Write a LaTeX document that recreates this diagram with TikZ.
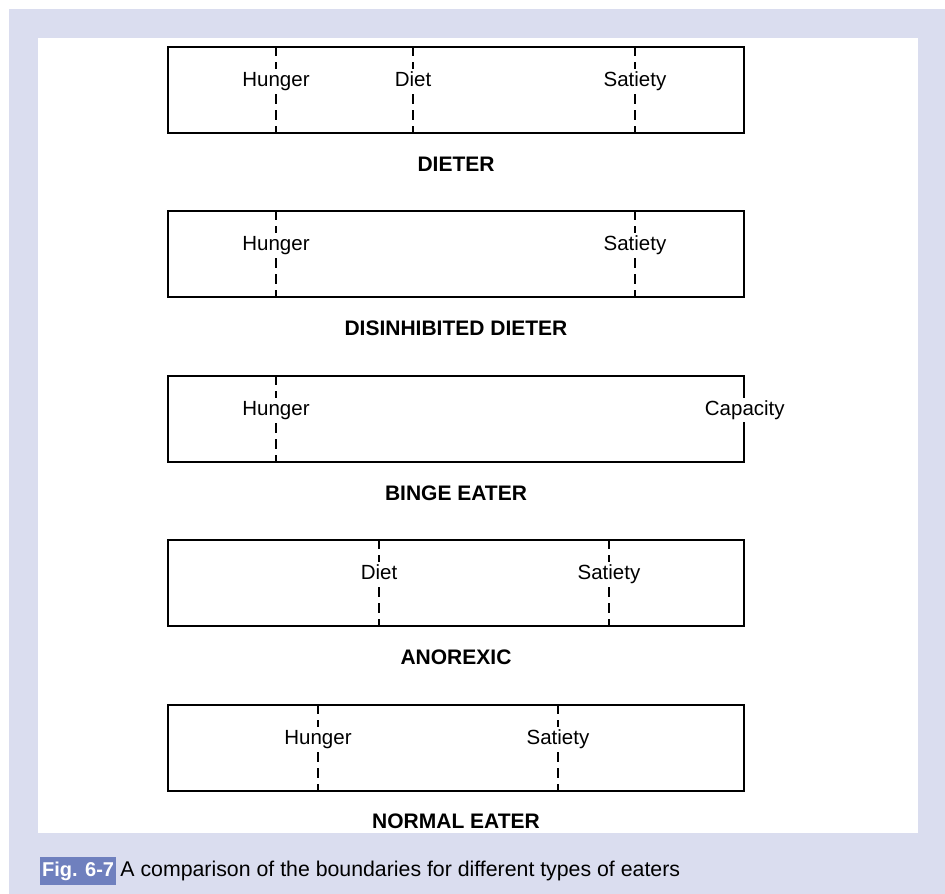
\documentclass[tikz,border=0pt]{standalone}
\usepackage{fontspec}
\setmainfont{Liberation Sans}
\usetikzlibrary{positioning}
\definecolor{panelblue}{RGB}{218,221,239}
\definecolor{figblue}{RGB}{111,128,190}

\begin{document}
\begin{tikzpicture}[x=1pt,y=-1pt,
    every node/.style={font=\fontsize{20.5}{24}\selectfont},
    eaterbox/.style={draw, line width=1.6pt, minimum width=576pt, minimum height=86pt, inner sep=0pt},
    boundary/.style={line width=1.6pt, dash pattern=on 10pt off 6pt},
    cue/.style={fill=white, inner xsep=1pt, inner ysep=2.5pt, anchor=base},
    eatertitle/.style={font=\fontsize{21}{24}\selectfont\bfseries, anchor=base},
    figtag/.style={fill=figblue, text=white, font=\fontsize{20}{24}\selectfont\bfseries, inner xsep=2pt, inner ysep=5pt, anchor=base west}
]
    \useasboundingbox (0,0) rectangle (945,894);
    \fill[panelblue] (9,9) rectangle (945,894);
    \fill[white] (38,38) rectangle (918,833);

    \node[eaterbox] (dieter) at (456,90) {};
    \node[eaterbox] (disinh) at (456,254) {};
    \node[eaterbox] (binge) at (456,419) {};
    \node[eaterbox] (anorexic) at (456,583) {};
    \node[eaterbox] (normal) at (456,748) {};

    \coordinate (hunger) at (276,0);
    \coordinate (diet) at (413,0);
    \coordinate (satiety) at (635,0);

    % dieter
    \draw[boundary] (dieter.north -| hunger) -- (dieter.south -| hunger);
    \draw[boundary] (dieter.north -| diet) -- (dieter.south -| diet);
    \draw[boundary] (dieter.north -| satiety) -- (dieter.south -| satiety);
    \node[cue] (dieterhunger) at (276,86) {Hunger};
    \node[cue] (dieterdiet) at (413,86) {Diet};
    \node[cue] (dietersatiety) at (635,86) {Satiety};
    \node[eatertitle] (dietertitle) at (456,171) {DIETER};

    % disinhibited dieter
    \draw[boundary] (disinh.north -| hunger) -- (disinh.south -| hunger);
    \draw[boundary] (disinh.north -| satiety) -- (disinh.south -| satiety);
    \node[cue] (disinhhunger) at (276,250) {Hunger};
    \node[cue] (disinhsatiety) at (635,250) {Satiety};
    \node[eatertitle] (disinhtitle) at (456,335) {DISINHIBITED DIETER};

    % binge eater
    \draw[boundary] (binge.north -| hunger) -- (binge.south -| hunger);
    \node[cue] (bingehunger) at (276,415) {Hunger};
    \node[cue] (bingecapacity) at (binge.east |- 0,415) {Capacity};
    \node[eatertitle] (bingetitle) at (456,500) {BINGE EATER};

    % anorexic
    \coordinate (diettwo) at (379,0);
    \coordinate (satietytwo) at (609,0);
    \draw[boundary] (anorexic.north -| diettwo) -- (anorexic.south -| diettwo);
    \draw[boundary] (anorexic.north -| satietytwo) -- (anorexic.south -| satietytwo);
    \node[cue] (anorexicdiet) at (379,579) {Diet};
    \node[cue] (anorexicsatiety) at (609,579) {Satiety};
    \node[eatertitle] (anorexictitle) at (456,664) {ANOREXIC};

    % normal eater
    \coordinate (hungerthree) at (318,0);
    \coordinate (satietythree) at (558,0);
    \draw[boundary] (normal.north -| hungerthree) -- (normal.south -| hungerthree);
    \draw[boundary] (normal.north -| satietythree) -- (normal.south -| satietythree);
    \node[cue] (normalhunger) at (318,744) {Hunger};
    \node[cue] (normalsatiety) at (558,744) {Satiety};
    \node[eatertitle] (normaltitle) at (456,828) {NORMAL EATER};

    \node[figtag] (figno) at (40,876) {Fig. 6-7};
    \node[anchor=base west, inner sep=0pt, font=\fontsize{21.3}{24}\selectfont] (caption) at ([xshift=4pt]figno.base east) {A comparison of the boundaries for different types of eaters};
\end{tikzpicture}
\end{document}
